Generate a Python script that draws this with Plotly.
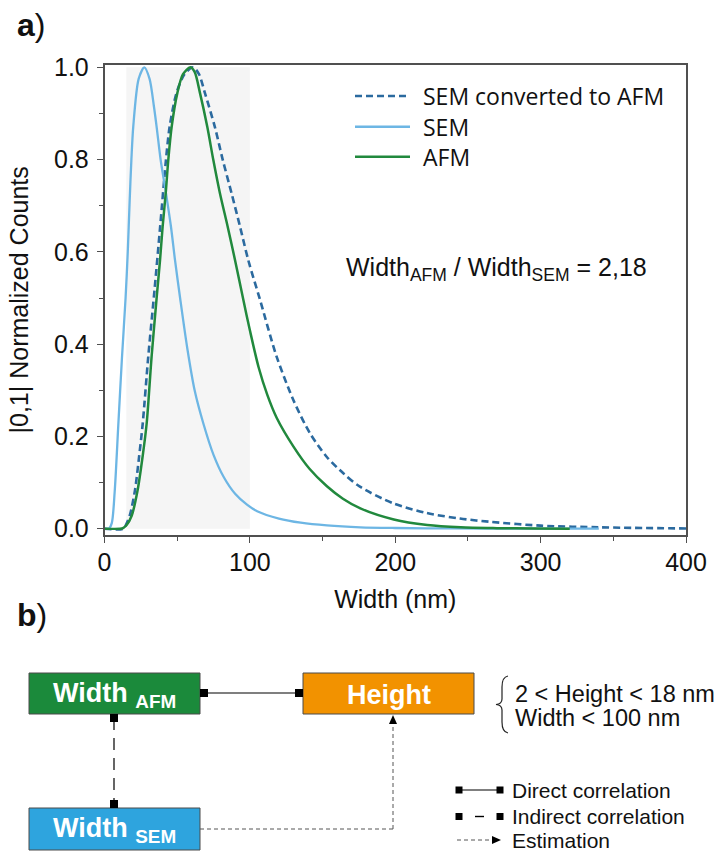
import plotly.graph_objects as go

# ---------------------------------------------------------------
# a) normalized width distributions
# ---------------------------------------------------------------
sem_width = [0, 3, 5, 7, 9.5, 12, 14.5, 16, 17.3, 18.5, 19.8, 23.5, 27.4, 31, 34, 35.9,
             38.6, 42.3, 45.7, 48.5, 52, 57, 62, 68, 75, 82, 90, 98, 105, 120, 135, 153,
             176, 200, 240, 290, 340]
sem_counts = [0, 0, 0.012, 0.08, 0.225, 0.37, 0.50, 0.60, 0.71, 0.80, 0.872, 0.975, 1.0,
              0.975, 0.915, 0.87, 0.80, 0.727, 0.655, 0.582, 0.50, 0.39, 0.30, 0.228,
              0.16, 0.112, 0.075, 0.052, 0.038, 0.022, 0.013, 0.007, 0.003, 0.0015,
              0.0005, 0, 0]

afm_width = [0, 10.7, 13, 15.2, 18.7, 22.8, 26.2, 29, 32.4, 36, 38.2, 40, 42.1, 43.9,
             46.2, 50.1, 54, 59, 62, 65.7, 70.7, 74.8, 79.4, 84.7, 89.8, 95.5, 100,
             106, 112, 118.5, 130, 141, 153, 164, 176, 199, 222, 245, 270, 295, 320]
afm_counts = [0, 0, 0.002, 0.008, 0.028, 0.084, 0.156, 0.228, 0.373, 0.505, 0.582, 0.655,
              0.727, 0.80, 0.871, 0.944, 0.985, 1.0, 0.99, 0.944, 0.871, 0.80, 0.727,
              0.655, 0.582, 0.496, 0.43, 0.35, 0.29, 0.24, 0.178, 0.13, 0.092, 0.065,
              0.044, 0.02, 0.008, 0.003, 0.0012, 0.0004, 0]

conv_width = [0, 13, 15, 17.5, 21, 23.8, 26.3, 30.1, 34.4, 38.3, 42.3, 44.8, 49.5, 55,
              61, 65, 69.1, 75.9, 81.3, 87.4, 93.2, 98.9, 107, 118.4, 129.9, 141.3,
              152.8, 164.3, 175.7, 198.6, 221.6, 244.5, 265, 300, 340, 400]
conv_counts = [0, 0, 0.01, 0.03, 0.084, 0.156, 0.228, 0.373, 0.517, 0.655, 0.80, 0.871,
               0.944, 0.985, 1.0, 0.985, 0.944, 0.871, 0.80, 0.727, 0.655, 0.582, 0.496,
               0.373, 0.279, 0.207, 0.156, 0.12, 0.091, 0.055, 0.034, 0.022,
               0.015, 0.0066, 0.003, 0.0005]

series_names = ["SEM converted to AFM", "SEM", "AFM"]
x_ticks = [0, 100, 200, 300, 400]
y_ticks = [0.0, 0.2, 0.4, 0.6, 0.8, 1.0]
shade_width = [15, 100]          # Width < 100 nm window
width_ratio = "2,18"

# colours
C_CONV = "#2b6a9f"
C_SEM = "#6db6e4"
C_AFM = "#21893d"
C_AXIS = "#505050"
BOX_AFM = "#1b8a3b"
BOX_HEIGHT = "#f29200"
BOX_SEM = "#2ea4de"

W, H = 724, 854
ARIAL = "Liberation Sans, Arial, sans-serif"
HUMAN = "Open Sans, sans-serif"


def fx(p):
    return p / W


def fy(p):
    return 1 - p / H


fig = go.Figure()

fig.add_trace(go.Scatter(
    x=conv_width, y=conv_counts, mode="lines", name=series_names[0], showlegend=False,
    line=dict(color=C_CONV, width=2.6, dash="7px,4px", shape="spline", smoothing=0.8)))
fig.add_trace(go.Scatter(
    x=sem_width, y=sem_counts, mode="lines", name=series_names[1], showlegend=False,
    line=dict(color=C_SEM, width=2.3, shape="spline", smoothing=0.8)))
fig.add_trace(go.Scatter(
    x=afm_width, y=afm_counts, mode="lines", name=series_names[2], showlegend=False,
    line=dict(color=C_AFM, width=2.5, shape="spline", smoothing=0.8)))

shapes = []
annotations = []

# shaded width window
shapes.append(dict(type="rect", xref="x", yref="y", x0=shade_width[0], x1=shade_width[1],
                   y0=0, y1=1.0, fillcolor="#f5f5f5", line=dict(width=0), layer="below"))

# legend drawn inside the plot area
legend_rows = [96, 126.7, 156.7]
legend_styles = [dict(color=C_CONV, width=2.6, dash="7px,4px"),
                 dict(color=C_SEM, width=2.6),
                 dict(color=C_AFM, width=2.6)]
for name, row, st in zip(series_names, legend_rows, legend_styles):
    shapes.append(dict(type="line", xref="paper", yref="paper",
                       x0=fx(355), x1=fx(410), y0=fy(row), y1=fy(row), line=st))
    annotations.append(dict(xref="paper", yref="paper", x=fx(421), y=fy(row),
                            xanchor="left", yanchor="middle", showarrow=False, text=name,
                            font=dict(family=HUMAN, size=23, color="#111111")))

annotations.append(dict(
    xref="paper", yref="paper", x=fx(344), y=fy(269), xanchor="left", yanchor="middle",
    showarrow=False,
    text="Width<sub>AFM</sub> / Width<sub>SEM</sub> = " + width_ratio,
    font=dict(family=ARIAL, size=25, color="#111111")))

# panel letters
for letter, ycen in (("a", 25), ("b", 615)):
    annotations.append(dict(xref="paper", yref="paper", x=fx(15), y=fy(ycen),
                            xanchor="left", yanchor="middle", showarrow=False,
                            text="<b>%s</b>)" % letter,
                            font=dict(family=ARIAL, size=32, color="#111111")))

# ---------------------------------------------------------------
# b) correlation diagram
# ---------------------------------------------------------------
def box(x0, x1, y0, y1, color, label):
    shapes.append(dict(type="rect", xref="paper", yref="paper",
                       x0=fx(x0), x1=fx(x1), y0=fy(y1), y1=fy(y0),
                       fillcolor=color, line=dict(color="#4a4a4a", width=1)))
    annotations.append(dict(xref="paper", yref="paper", x=fx((x0 + x1) / 2),
                            y=fy((y0 + y1) / 2 + 1), xanchor="center", yanchor="middle",
                            showarrow=False, text=label,
                            font=dict(family=ARIAL, size=27, color="white")))


def square(cx, cy, s=8):
    shapes.append(dict(type="rect", xref="paper", yref="paper",
                       x0=fx(cx - s / 2), x1=fx(cx + s / 2),
                       y0=fy(cy + s / 2), y1=fy(cy - s / 2),
                       fillcolor="black", line=dict(width=0)))


def seg(x0, y0, x1, y1, dash="solid", width=1.2, color="black"):
    shapes.append(dict(type="line", xref="paper", yref="paper",
                       x0=fx(x0), y0=fy(y0), x1=fx(x1), y1=fy(y1),
                       line=dict(color=color, width=width, dash=dash)))


def arrow_up(cx, tip):
    path = "M %f %f L %f %f L %f %f Z" % (fx(cx), fy(tip), fx(cx - 4), fy(tip + 9),
                                          fx(cx + 4), fy(tip + 9))
    shapes.append(dict(type="path", xref="paper", yref="paper", path=path,
                       fillcolor="black", line=dict(width=0)))


def arrow_right(tip, cy):
    path = "M %f %f L %f %f L %f %f Z" % (fx(tip), fy(cy), fx(tip - 9), fy(cy - 4),
                                          fx(tip - 9), fy(cy + 4))
    shapes.append(dict(type="path", xref="paper", yref="paper", path=path,
                       fillcolor="black", line=dict(width=0)))


box(29, 200, 673, 714, BOX_AFM, "<b>Width <sub>AFM</sub></b>")
box(303, 474, 673, 714, BOX_HEIGHT, "<b>Height</b>")
box(29, 200, 808, 850, BOX_SEM, "<b>Width <sub>SEM</sub></b>")

# direct correlation Width_AFM - Height
seg(204, 693, 299, 693)
square(204, 693)
square(299, 693)

# indirect correlation Width_AFM - Width_SEM
seg(114, 718, 114, 804, dash="12px,8px")
square(114, 718)
square(114, 804)

# estimation Width_SEM -> Height
seg(200, 829, 393, 829, dash="4px,3px", width=1, color="#555555")
seg(393, 829, 393, 723, dash="4px,3px", width=1, color="#555555")
arrow_up(393, 715)

# curly brace and constraints
bx = [508, 502, 496]
brace = ("M %f %f Q %f %f %f %f L %f %f Q %f %f %f %f Q %f %f %f %f L %f %f Q %f %f %f %f" % (
    fx(bx[0]), fy(676), fx(bx[1]), fy(677), fx(bx[1]), fy(687), fx(bx[1]), fy(699),
    fx(bx[1]), fy(704), fx(bx[2]), fy(704.5), fx(bx[1]), fy(705), fx(bx[1]), fy(710),
    fx(bx[1]), fy(722), fx(bx[1]), fy(732), fx(bx[0]), fy(733)))
shapes.append(dict(type="path", xref="paper", yref="paper", path=brace,
                   line=dict(color="#222222", width=1.2)))
for txt, yc in (("2 &lt; Height &lt; 18 nm", 694), ("Width &lt; 100 nm", 718)):
    annotations.append(dict(xref="paper", yref="paper", x=fx(513), y=fy(yc),
                            xanchor="left", yanchor="middle", showarrow=False, text=txt,
                            font=dict(family=ARIAL, size=23.5, color="#111111")))

# diagram key
key_rows = [790, 816.5, 840]
seg(459, key_rows[0], 500, key_rows[0])
square(459, key_rows[0], 7)
square(500, key_rows[0], 7)
square(459, key_rows[1], 7)
square(500, key_rows[1], 7)
seg(475, key_rows[1], 484, key_rows[1], width=1.4)
seg(457, key_rows[2], 492, key_rows[2], dash="4px,3px", width=1, color="#555555")
arrow_right(501, key_rows[2])
for txt, yc in zip(["Direct correlation", "Indirect correlation", "Estimation"], key_rows):
    annotations.append(dict(xref="paper", yref="paper", x=fx(510), y=fy(yc),
                            xanchor="left", yanchor="middle", showarrow=False, text=txt,
                            font=dict(family=ARIAL, size=21, color="#111111")))

axis_common = dict(showline=True, linecolor=C_AXIS, linewidth=1.5, mirror=True,
                   ticks="outside", ticklen=6, tickwidth=1.3, tickcolor=C_AXIS,
                   showgrid=False, zeroline=False,
                   tickfont=dict(family=ARIAL, size=25, color="#111111"))

fig.update_layout(
    width=W, height=H, autosize=False,
    margin=dict(l=0, r=0, t=0, b=0),
    paper_bgcolor="white", plot_bgcolor="white",
    showlegend=False,
    shapes=shapes, annotations=annotations,
    xaxis=dict(domain=[fx(104.5), fx(686)], range=[0, 400], tickvals=x_ticks,
               ticklabelstandoff=-2,
               minor=dict(ticks="outside", ticklen=4, tickwidth=1.2, tickcolor=C_AXIS,
                          tick0=0, dtick=50),
               title=dict(text="Width (nm)", standoff=16,
                          font=dict(family=ARIAL, size=25, color="#111111")),
               automargin=False, **axis_common),
    yaxis=dict(domain=[fy(535), fy(64.7)], range=[-0.01365, 1.00563], tickvals=y_ticks,
               tickformat=".1f", ticklabelstandoff=3,
               minor=dict(ticks="outside", ticklen=4, tickwidth=1.2, tickcolor=C_AXIS,
                          tick0=0, dtick=0.1),
               title=dict(text="|0,1| Normalized Counts", standoff=18,
                          font=dict(family=ARIAL, size=25, color="#111111")),
               automargin=False, **axis_common),
)

fig.write_html("out.html")
